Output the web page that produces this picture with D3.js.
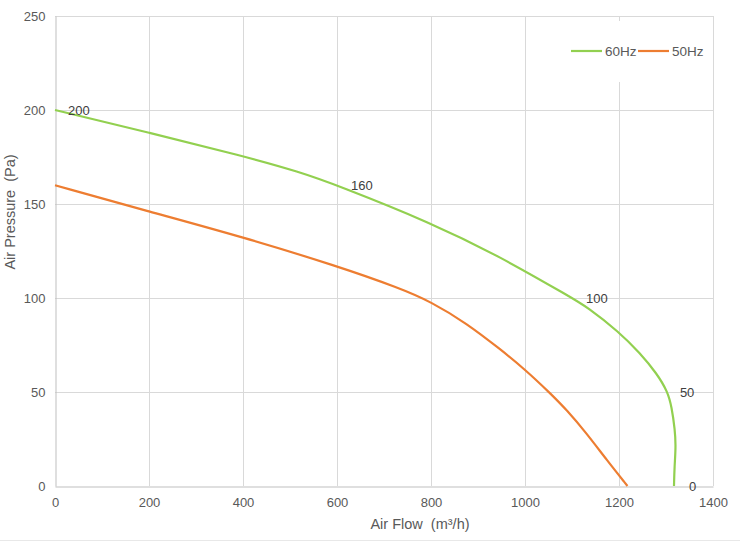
<!DOCTYPE html>
<html><head><meta charset="utf-8">
<script src="https://cdn.jsdelivr.net/npm/d3@7"></script>
<style>body{margin:0;background:#fff} text{font-family:"Liberation Sans",Arial,sans-serif;white-space:pre}</style>
</head><body><svg id="c" width="740" height="542"></svg>
<script>
const xTicks=[0,200,400,600,800,1000,1200,1400];
const yTicks=[0,50,100,150,200,250];
const flow60=[0,200,400,521,600,800,947,1100,1131,1200,1245,1280,1304,1312,1319,1321,1318,1317];
const pres60=[200,188,175.5,167,160,140,122,100,95.4,82,70.6,60,50,42,30,21,10,0];
const labels60=["200","","","","160","","","100","","","","","50","","","","","0"];
const flow50=[0,200,400,600,734,800,876,947,1000,1053,1089,1131,1174,1218];
const pres50=[160,146,132.4,117,105.2,98,86.5,72.8,62,49.5,40.4,28,13.8,0];
const seriesNames=["60Hz","50Hz"];
const xTitle="Air Flow  (m³/h)";
const yTitle="Air Pressure  (Pa)";

const colors=["#92d050","#ed7d31"];
const labelDx={0:13,4:14,7:14,12:12,17:15};
const svg=d3.select("#c");
const x=d3.scaleLinear().domain([0,1400]).range([55,713]);
const y=d3.scaleLinear().domain([0,250]).range([486,16]);

svg.append("rect").attr("width",740).attr("height",542).attr("fill","#fff");
svg.append("line").attr("x1",0).attr("x2",740).attr("y1",540.5).attr("y2",540.5).attr("stroke","#e8e8e8");

const grid=svg.append("g");
grid.selectAll(".v").data(xTicks.slice(1)).join("line")
 .attr("x1",d=>Math.round(x(d))+0.5).attr("x2",d=>Math.round(x(d))+0.5)
 .attr("y1",y(250)).attr("y2",y(0)).attr("stroke","#d9d9d9");
grid.selectAll(".h").data(yTicks.slice(1)).join("line")
 .attr("x1",x(0)).attr("x2",x(1400))
 .attr("y1",d=>Math.round(y(d))+0.5).attr("y2",d=>Math.round(y(d))+0.5).attr("stroke","#d9d9d9");

const xAxis=d3.axisBottom(x).tickValues(xTicks).tickSize(0).tickPadding(11).tickFormat(d3.format("d"));
const gx=svg.append("g").attr("transform",`translate(0,${y(0)+0.5})`).call(xAxis);
gx.select(".domain").attr("stroke","#bfbfbf");
gx.selectAll("text").attr("fill","#595959").attr("font-size",13);
const yAxis=d3.axisLeft(y).tickValues(yTicks).tickSize(0).tickPadding(10).tickFormat(d3.format("d"));
const gy=svg.append("g").attr("transform",`translate(${x(0)+0.5},0)`).call(yAxis);
gy.select(".domain").attr("stroke","#bfbfbf");
gy.selectAll("text").attr("fill","#595959").attr("font-size",13);

const s60=flow60.map((f,i)=>[f,pres60[i],labels60[i],i]);
const s50=flow50.map((f,i)=>[f,pres50[i]]);
const line=d3.line().x(d=>x(d[0])).y(d=>y(d[1])).curve(d3.curveBasis);
svg.append("path").attr("d",line(s60)).attr("fill","none").attr("stroke",colors[0]).attr("stroke-width",2.2);
svg.append("path").attr("d",line(s50)).attr("fill","none").attr("stroke",colors[1]).attr("stroke-width",2.2);

svg.selectAll(".lab").data(s60.filter(d=>d[2]!=="")).join("text")
 .attr("x",d=>x(d[0])+labelDx[d[3]]).attr("y",d=>y(d[1])).attr("dy","0.35em")
 .attr("font-size",13).attr("fill","#404040").text(d=>d[2]);

// legend
const lg=svg.append("g");
lg.append("rect").attr("x",560).attr("y",21).attr("width",151).attr("height",61).attr("fill","#fff");
const lx=[571,638];
seriesNames.forEach((n,i)=>{
  lg.append("line").attr("x1",lx[i]).attr("x2",lx[i]+31).attr("y1",51).attr("y2",51).attr("stroke",colors[i]).attr("stroke-width",2.2);
  lg.append("text").attr("x",lx[i]+34).attr("y",51).attr("dy","0.35em").attr("font-size",13.5).attr("fill","#595959").text(n);
});

svg.append("text").attr("x",420).attr("y",529).attr("text-anchor","middle").attr("font-size",14.5).attr("fill","#595959").text(xTitle);
svg.append("text").attr("transform","translate(15,212) rotate(-90)").attr("text-anchor","middle").attr("font-size",14.5).attr("fill","#595959").text(yTitle);
</script></body></html>
